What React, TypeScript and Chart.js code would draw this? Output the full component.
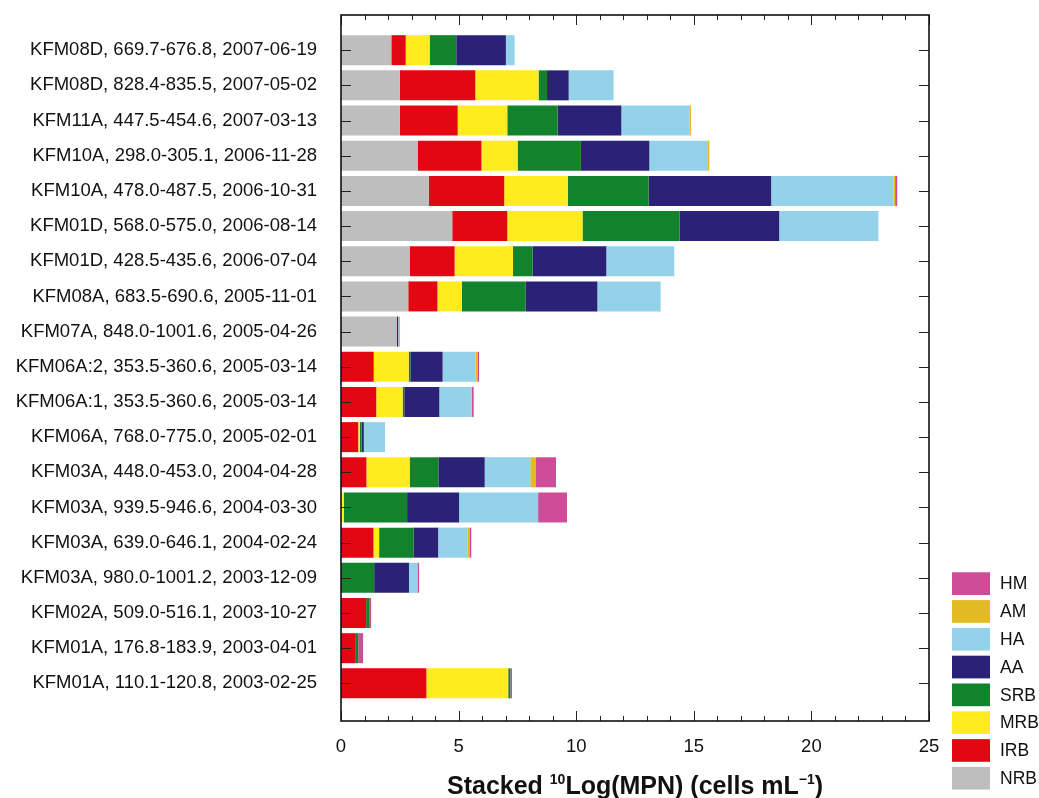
import React, { useEffect, useRef } from 'react';
import { Chart, registerables } from 'chart.js';

Chart.register(...registerables);

const LABELS = [
  'KFM08D, 669.7-676.8, 2007-06-19',
  'KFM08D, 828.4-835.5, 2007-05-02',
  'KFM11A, 447.5-454.6, 2007-03-13',
  'KFM10A, 298.0-305.1, 2006-11-28',
  'KFM10A, 478.0-487.5, 2006-10-31',
  'KFM01D, 568.0-575.0, 2006-08-14',
  'KFM01D, 428.5-435.6, 2006-07-04',
  'KFM08A, 683.5-690.6, 2005-11-01',
  'KFM07A, 848.0-1001.6, 2005-04-26',
  'KFM06A:2, 353.5-360.6, 2005-03-14',
  'KFM06A:1, 353.5-360.6, 2005-03-14',
  'KFM06A, 768.0-775.0, 2005-02-01',
  'KFM03A, 448.0-453.0, 2004-04-28',
  'KFM03A, 939.5-946.6, 2004-03-30',
  'KFM03A, 639.0-646.1, 2004-02-24',
  'KFM03A, 980.0-1001.2, 2003-12-09',
  'KFM02A, 509.0-516.1, 2003-10-27',
  'KFM01A, 176.8-183.9, 2003-04-01',
  'KFM01A, 110.1-120.8, 2003-02-25',
];

const NRB = [2.14, 2.5, 2.5, 3.26, 3.73, 4.73, 2.92, 2.86, 2.38, 0, 0, 0, 0, 0, 0, 0, 0, 0, 0];
const IRB = [0.61, 3.21, 2.46, 2.71, 3.21, 2.34, 1.91, 1.24, 0, 1.39, 1.5, 0.73, 1.08, 0, 1.38, 0, 1.07, 0.63, 3.63];
const MRB = [1.02, 2.69, 2.11, 1.54, 2.7, 3.2, 2.48, 1.04, 0, 1.49, 1.12, 0.07, 1.84, 0.12, 0.24, 0, 0, 0, 3.48];
const SRB = [1.13, 0.36, 2.14, 2.69, 3.44, 4.13, 0.84, 2.7, 0, 0.07, 0.07, 0.08, 1.22, 2.69, 1.46, 1.41, 0.15, 0.1, 0.09];
const AA = [2.11, 0.92, 2.71, 2.91, 5.21, 4.23, 3.13, 3.06, 0.05, 1.37, 1.49, 0.09, 1.97, 2.21, 1.05, 1.48, 0, 0, 0];
const HA = [0.37, 1.91, 2.91, 2.49, 5.2, 4.22, 2.89, 2.69, 0.02, 1.4, 1.38, 0.9, 1.94, 3.36, 1.24, 0.36, 0, 0, 0];
const AM = [0, 0, 0.05, 0.06, 0.07, 0, 0, 0, 0.06, 0.08, 0, 0, 0.24, 0, 0.09, 0, 0, 0, 0];
const HM = [0, 0, 0, 0, 0.09, 0, 0, 0, 0, 0.07, 0.08, 0, 0.85, 1.23, 0.08, 0.07, 0.06, 0.21, 0.07];

const SERIES_NAMES = ['NRB', 'IRB', 'MRB', 'SRB', 'AA', 'HA', 'AM', 'HM'];
const SERIES_VALUES = [NRB, IRB, MRB, SRB, AA, HA, AM, HM];
const SERIES_COLORS = ['#BEBEBE', '#E30613', '#FFEC1E', '#12822D', '#2B2176', '#93D2E9', '#E2BA23', '#CF4D98'];

const X_MIN = 0;
const X_MAX = 25;
const X_STEP = 5;

const FONT = "'Liberation Sans', Arial, Helvetica, sans-serif";

const framePlugin = {
  id: 'frameTicks',
  afterDatasetsDraw(chart: any) {
    const { ctx, chartArea: a, scales } = chart;
    const xs = scales.x;
    const ys = scales.y;
    ctx.save();
    ctx.strokeStyle = '#222';
    ctx.lineWidth = 1;
    const line = (x1: number, y1: number, x2: number, y2: number) => {
      ctx.beginPath();
      ctx.moveTo(x1, y1);
      ctx.lineTo(x2, y2);
      ctx.stroke();
    };
    for (let v = X_MIN; v <= X_MAX; v++) {
      const px = Math.round(xs.getPixelForValue(v)) + 0.5;
      const len = v % X_STEP === 0 ? 10 : 5;
      line(px, a.top, px, a.top + len);
      line(px, a.bottom, px, a.bottom - len);
    }
    LABELS.forEach((_, i) => {
      const py = Math.round(ys.getPixelForValue(i)) + 0.5;
      line(a.left, py, a.left + 10, py);
      line(a.right, py, a.right - 10, py);
    });
    ctx.lineWidth = 1.6;
    ctx.strokeStyle = '#111';
    ctx.strokeRect(a.left, a.top, a.right - a.left, a.bottom - a.top);
    ctx.restore();
  },
};

const legendTitlePlugin = {
  id: 'legendTitle',
  afterDraw(chart: any) {
    const { ctx, chartArea: a } = chart;
    ctx.save();
    const ds = chart.data.datasets.slice().reverse();
    const boxX = 952;
    const boxW = 38;
    const boxH = 22.7;
    const top0 = 572.3;
    const step = 27.8;
    ctx.font = `17.5px ${FONT}`;
    ctx.textBaseline = 'middle';
    ctx.textAlign = 'left';
    ds.forEach((d: any, k: number) => {
      const y = top0 + k * step;
      ctx.fillStyle = d.backgroundColor;
      ctx.fillRect(boxX, y, boxW, boxH);
      ctx.fillStyle = '#111';
      ctx.fillText(d.label, 1000, y + boxH / 2 + 1);
    });

    const base = 794;
    const big = `bold 25px ${FONT}`;
    const small = `bold 14px ${FONT}`;
    const parts: [string, boolean][] = [
      ['Stacked ', false],
      ['10', true],
      ['Log(MPN) (cells mL', false],
      ['\u22121', true],
      [')', false],
    ];
    let total = 0;
    const widths = parts.map(([t, sup]) => {
      ctx.font = sup ? small : big;
      const w = ctx.measureText(t).width;
      total += w;
      return w;
    });
    let x = (a.left + a.right) / 2 - total / 2;
    ctx.textBaseline = 'alphabetic';
    ctx.fillStyle = '#111';
    parts.forEach(([t, sup], i) => {
      ctx.font = sup ? small : big;
      ctx.fillText(t, x, sup ? base - 10 : base);
      x += widths[i];
    });
    ctx.restore();
  },
};

export default function App() {
  const ref = useRef<HTMLCanvasElement | null>(null);

  useEffect(() => {
    document.body.style.margin = '0';
    document.body.style.overflow = 'hidden';
    const canvas = ref.current;
    if (!canvas) return;
    const chart = new Chart(canvas, {
      type: 'bar',
      data: {
        datasets: SERIES_NAMES.map((name, k) => ({
          label: name,
          data: SERIES_VALUES[k].map((v, i) => ({ x: v, y: i })),
          backgroundColor: SERIES_COLORS[k],
          borderWidth: 0,
          barPercentage: 0.853,
          categoryPercentage: 1,
        })),
      },
      options: {
        indexAxis: 'y',
        animation: false,
        responsive: false,
        layout: { padding: { top: 15, right: 110, left: 0, bottom: 0 } },
        plugins: {
          legend: { display: false },
          tooltip: { enabled: false },
        },
        scales: {
          x: {
            type: 'linear',
            stacked: true,
            min: X_MIN,
            max: X_MAX,
            offset: false,
            grid: { display: false, drawTicks: false, offset: false },
            border: { display: false },
            ticks: {
              stepSize: X_STEP,
              padding: 15,
              maxRotation: 0,
              color: '#111',
              font: { family: FONT, size: 18.5 },
            },
            afterFit: (s: any) => {
              s.height = 77;
              s.paddingLeft = 0;
              s.paddingRight = 0;
            },
          },
          y: {
            type: 'linear',
            stacked: true,
            reverse: true,
            min: -1,
            max: 19.07,
            offset: false,
            grid: { display: false, drawTicks: false, offset: false },
            border: { display: false },
            afterBuildTicks: (s: any) => {
              s.ticks = LABELS.map((_, i) => ({ value: i }));
            },
            ticks: {
              autoSkip: false,
              padding: 24,
              color: '#111',
              font: { family: FONT, size: 18.5 },
              callback: (_v: any, i: number) => LABELS[i],
            },
            afterFit: (s: any) => {
              s.width = 341;
              s.paddingTop = 0;
              s.paddingBottom = 0;
            },
          },
        },
      } as any,
      plugins: [framePlugin, legendTitlePlugin],
    });
    return () => chart.destroy();
  }, []);

  return (
    <div style={{ width: 1039, height: 798 }}>
      <canvas ref={ref} width={1039} height={798} style={{ display: 'block' }} />
    </div>
  );
}
